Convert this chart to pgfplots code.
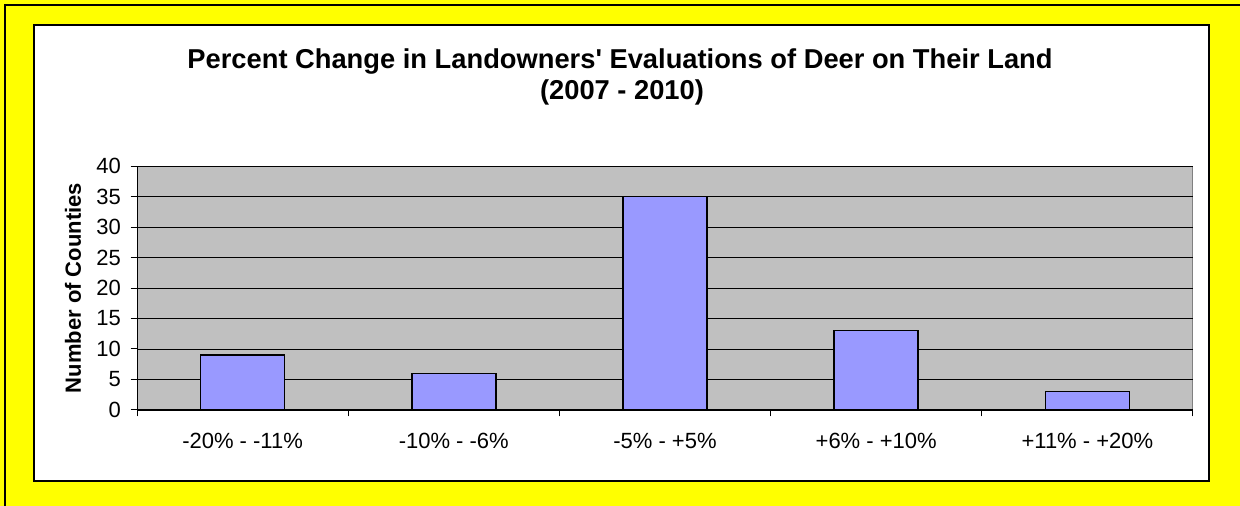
\documentclass[border=0pt]{standalone}
\usepackage{fontspec}
\setmainfont{Liberation Sans}
\usepackage{pgfplots}
\pgfplotsset{compat=1.18}
\definecolor{barfill}{HTML}{9999FF}
\definecolor{plotbg}{HTML}{C0C0C0}
\definecolor{frameyellow}{HTML}{FFFF00}
\begin{document}
\begin{tikzpicture}[x=1pt,y=1pt]
\useasboundingbox (0,0) rectangle (1240,506);
\clip (0,0) rectangle (1240,506);
\fill[frameyellow] (0,0) rectangle (1240,506);
\draw[line width=2pt] (5,-20) rectangle (1260,501);
\draw[fill=white,line width=2.6pt] (34,25) rectangle (1209,481);
\node[font=\bfseries\fontsize{27.3}{32}\selectfont,anchor=base] at (620,506-68.3) {Percent Change in Landowners\textquotesingle{} Evaluations of Deer on Their Land};
\node[font=\bfseries\fontsize{27.3}{32}\selectfont,anchor=base] at (622,506-100) {(2007 - 2010)};
\begin{axis}[
  at={(242.6pt,96pt)}, anchor=origin,
  scale only axis, width=1056pt, height=244pt,
  xmin=-0.5, xmax=4.5, ymin=0, ymax=40,
  axis background/.style={fill=plotbg, draw=gray, line width=1pt},
  axis x line*=bottom, axis y line*=left,
  axis line style={black, line width=1pt},
  ybar, bar width=84pt,
  ytick={0,5,...,40},
  ymajorgrids, grid style={black, line width=0.9pt},
  xtick={-0.5,0.5,...,4.5}, xticklabels={},
  extra x ticks={0,1,2,3,4},
  extra x tick labels={{-20\% - -11\%},{-10\% - -6\%},{-5\% - +5\%},{+6\% - +10\%},{+11\% - +20\%}},
  extra x tick style={tick style={draw=none}, grid=none},
  tick align=outside, major tick length=6.5pt,
  tick style={black, line width=1pt},
  ticklabel style={font=\fontsize{22}{26}\selectfont},
  xticklabel style={yshift=-13pt},
  yticklabel style={xshift=-6pt},
  /pgf/number format/assume math mode=true,
  ylabel={Number of Counties},
  ylabel style={font=\bfseries\fontsize{22}{26}\selectfont, at={(axis description cs:-0.0606,0.5)}, anchor=center},
]
\addplot[fill=barfill, draw=black, line width=1.6pt] coordinates {(0,9) (1,6) (2,35) (3,13) (4,3)};
\end{axis}
\end{tikzpicture}
\end{document}
